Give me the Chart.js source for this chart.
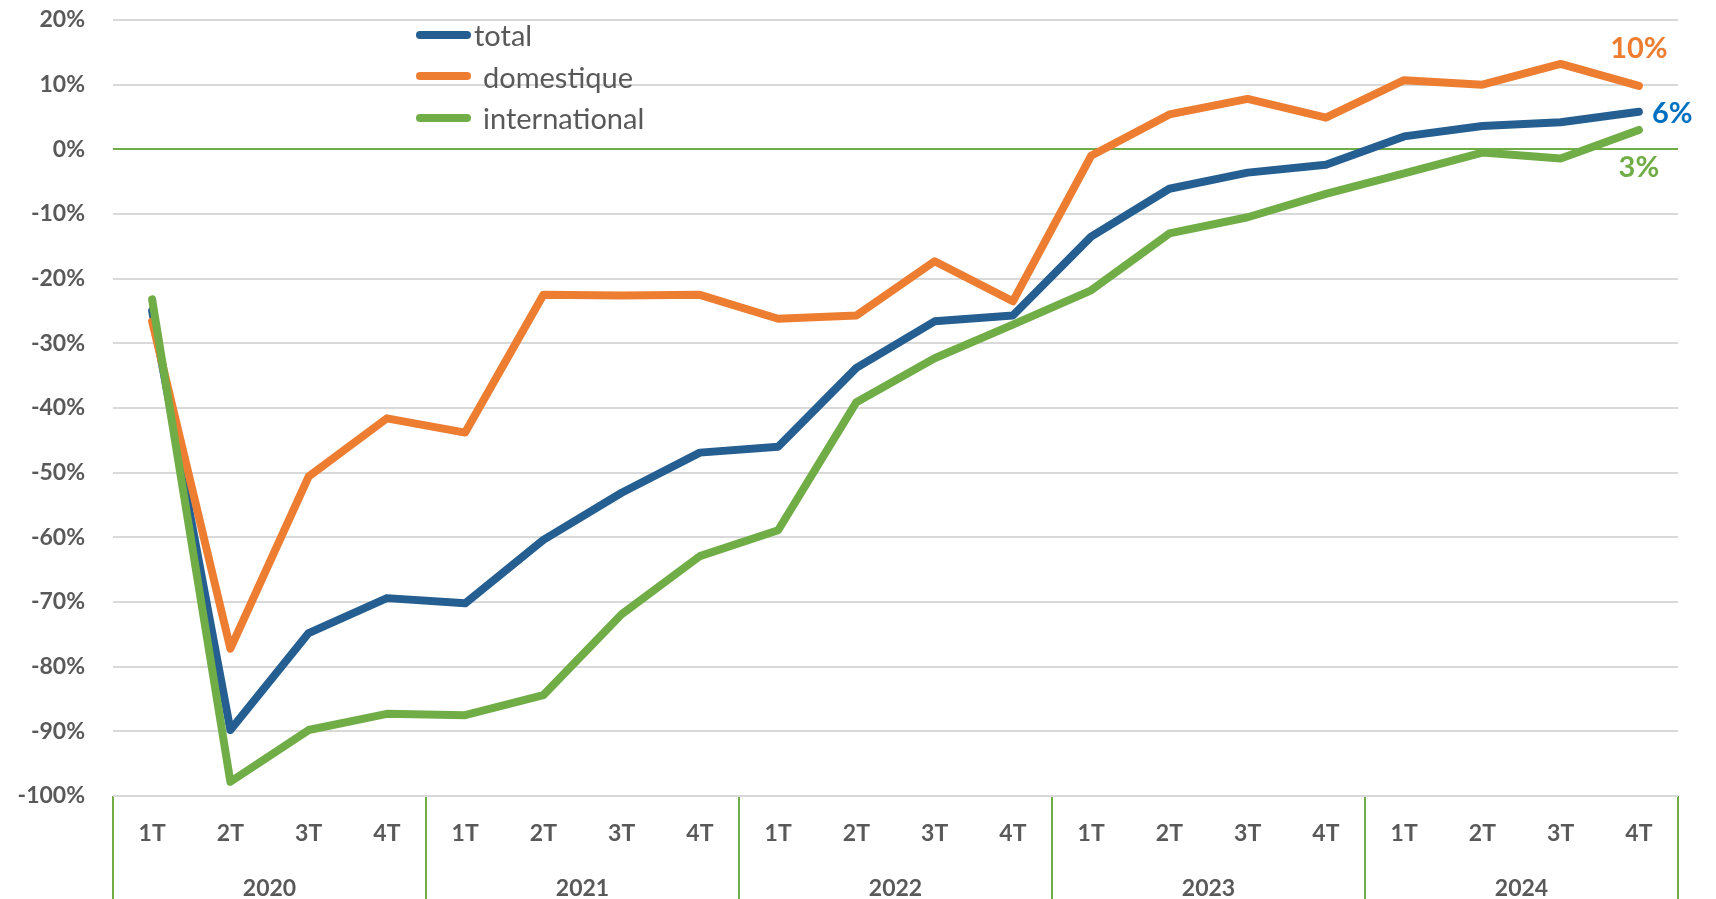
<!DOCTYPE html>
<html>
<head>
<meta charset="utf-8">
<script src="https://cdn.jsdelivr.net/npm/chart.js@4.4.1/dist/chart.umd.min.js"></script>
<style>
html, body { margin: 0; padding: 0; background: #fff; }
#wrap { position: relative; width: 1716px; height: 899px; }
#legend { position: absolute; left: 416px; top: 14px; font-family: Lato, sans-serif; font-size: 29px; color: #595959; }
.item { display: flex; align-items: center; height: 41.5px; }
.swatch { width: 55px; height: 8px; border-radius: 4px; }
</style>
</head>
<body>
<div id="wrap">
  <canvas id="chart"></canvas>
  <div id="legend"></div>
</div>
<script>
var quarters = ['1T','2T','3T','4T','1T','2T','3T','4T','1T','2T','3T','4T','1T','2T','3T','4T','1T','2T','3T','4T'];
var years = ['2020','2021','2022','2023','2024'];

var total = [-25, -89.8, -74.8, -69.4, -70.2, -60.4, -53.1, -46.9, -46.0, -33.8,
             -26.6, -25.7, -13.5, -6.1, -3.6, -2.4, 2.0, 3.6, 4.2, 5.8];
var domestique = [-26.6, -77.2, -50.6, -41.6, -43.8, -22.5, -22.6, -22.5, -26.2, -25.7,
                  -17.3, -23.5, -1.0, 5.4, 7.8, 4.9, 10.7, 10.0, 13.2, 9.8];
var international = [-23.2, -97.8, -89.8, -87.3, -87.5, -84.4, -71.9, -62.9, -58.9, -39.1,
                     -32.3, -27.1, -21.8, -13.0, -10.5, -6.9, -3.7, -0.5, -1.4, 3.0];

var seriesNames = ['total', 'domestique', 'international'];
var lineColors = ['#255E91', '#ED7D31', '#70AD47'];
var endColors = ['#0070C0', '#ED7D31', '#70AD47'];
var endPlace = ['right', 'above', 'below'];

var grey = '#595959';
var green = '#70AD47';
var tickFont = { family: 'Lato', size: 23, weight: 'bold' };

// legend in html, sits inside the plot like the excel one
var legend = document.getElementById('legend');
seriesNames.forEach(function (name, i) {
  var row = document.createElement('div');
  row.className = 'item';
  var sw = document.createElement('span');
  sw.className = 'swatch';
  sw.style.background = lineColors[i];
  sw.style.marginRight = (i === 0 ? 3 : 12) + 'px';
  var txt = document.createElement('span');
  txt.textContent = name;
  row.appendChild(sw);
  row.appendChild(txt);
  legend.appendChild(row);
});

// value label at the last point of each line
var endLabels = {
  id: 'endLabels',
  afterDatasetsDraw: function (chart) {
    var ctx = chart.ctx;
    chart.data.datasets.forEach(function (ds, i) {
      var meta = chart.getDatasetMeta(i);
      var pt = meta.data[meta.data.length - 1];
      var v = ds.data[ds.data.length - 1];
      var txt = Math.round(v) + '%';
      ctx.save();
      ctx.font = 'bold 29px Lato';
      ctx.fillStyle = endColors[i];
      ctx.textBaseline = 'middle';
      if (endPlace[i] === 'right') {
        ctx.textAlign = 'left';
        ctx.fillText(txt, pt.x + 13, pt.y + 2);
      } else if (endPlace[i] === 'above') {
        ctx.textAlign = 'center';
        ctx.fillText(txt, pt.x, pt.y - 37);
      } else {
        ctx.textAlign = 'center';
        ctx.fillText(txt, pt.x, pt.y + 38);
      }
      ctx.restore();
    });
  }
};

function mkSet(label, data, i, order) {
  return {
    label: label,
    data: data,
    borderColor: lineColors[i],
    backgroundColor: lineColors[i],
    borderWidth: 8,
    borderCapStyle: 'round',
    borderJoinStyle: 'round',
    pointRadius: 0,
    tension: 0,
    order: order
  };
}

new Chart(document.getElementById('chart'), {
  type: 'line',
  data: {
    labels: quarters,
    datasets: [
      mkSet(seriesNames[0], total, 0, 2),
      mkSet(seriesNames[1], domestique, 1, 1),
      mkSet(seriesNames[2], international, 2, 0)
    ]
  },
  options: {
    responsive: true,
    maintainAspectRatio: false,
    animation: false,
    events: [],
    layout: { padding: { top: 20, right: 38, left: 0, bottom: 0 } },
    plugins: { legend: { display: false }, tooltip: { enabled: false } },
    scales: {
      x: {
        offset: true,
        weight: 0,
        grid: {
          offset: true,
          drawOnChartArea: false,
          drawTicks: true,
          tickLength: 103,
          lineWidth: 2,
          color: function (c) {
            return (c.index === undefined || c.index % 4 === 0) ? green : 'transparent';
          }
        },
        border: { display: false },
        ticks: { padding: -79, color: grey, font: tickFont, maxRotation: 0, autoSkip: false },
        afterFit: function (s) { s.height = 48; }
      },
      x2: {
        type: 'category',
        labels: years,
        position: 'bottom',
        offset: true,
        weight: 1,
        grid: { display: false },
        border: { display: false },
        ticks: { padding: 23, color: grey, font: tickFont, maxRotation: 0 },
        afterFit: function (s) { s.height = 55; }
      },
      y: {
        min: -100,
        max: 20,
        grid: {
          drawTicks: true,
          tickLength: 28,
          tickColor: 'transparent',
          lineWidth: 2,
          color: function (c) {
            return (c.tick && c.tick.value === 0) ? green : '#d9d9d9';
          }
        },
        border: { display: false },
        ticks: {
          stepSize: 10,
          padding: 0,
          color: grey,
          font: tickFont,
          callback: function (v) { return v + '%'; }
        },
        afterFit: function (s) { s.width = 113; }
      }
    }
  },
  plugins: [endLabels]
});
</script>
</body>
</html>
